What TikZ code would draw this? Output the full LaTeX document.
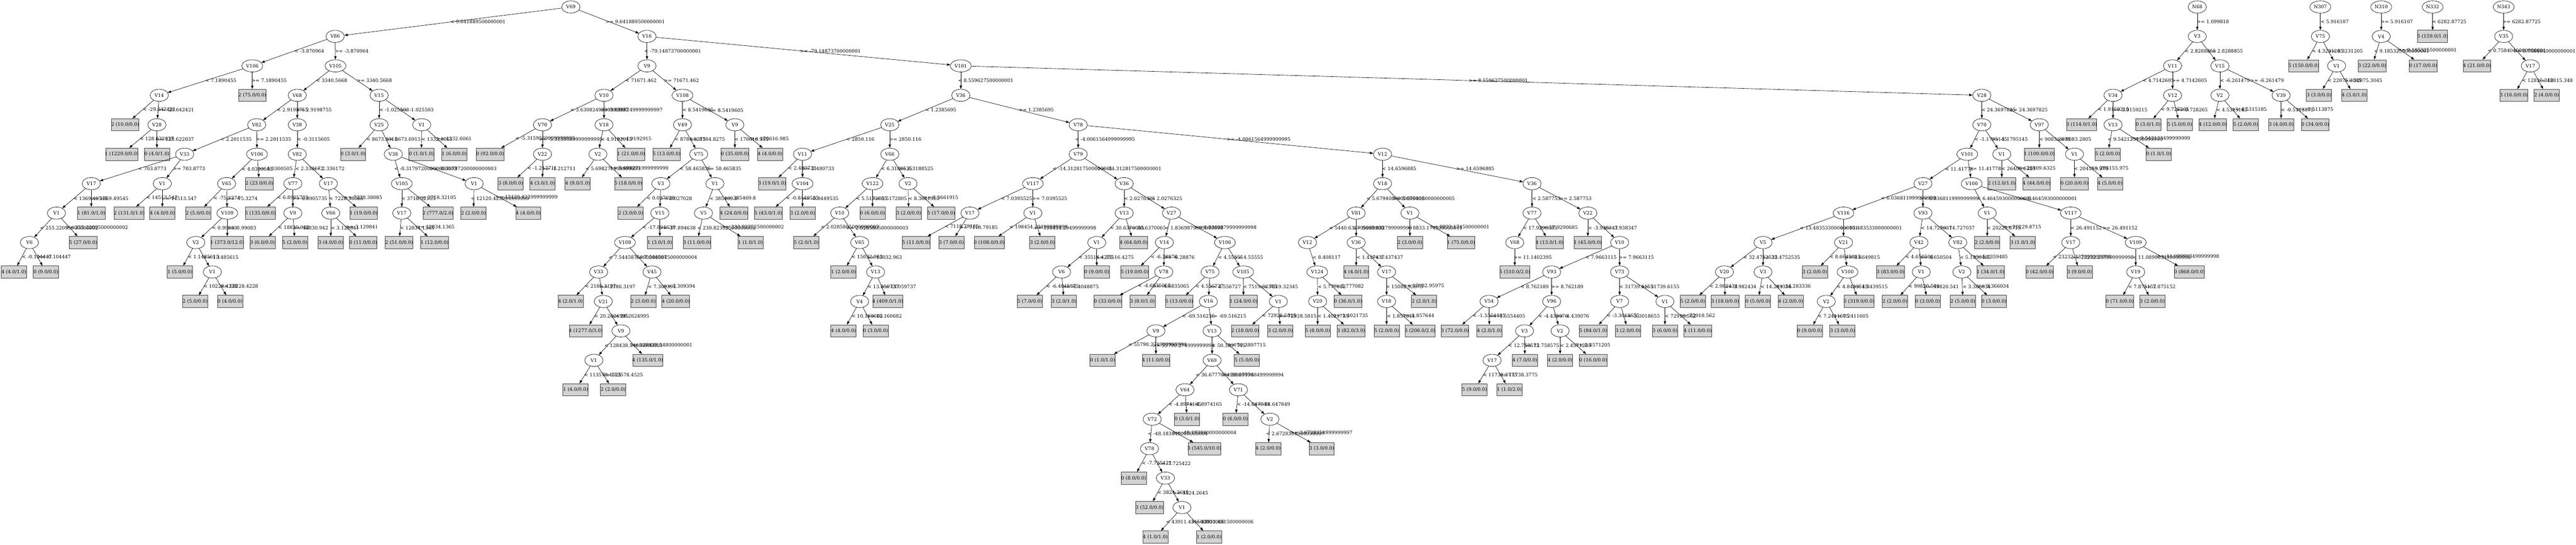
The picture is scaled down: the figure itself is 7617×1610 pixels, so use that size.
\documentclass[tikz,border=0pt]{standalone}
\usepackage{fontspec}
\setmainfont{DejaVu Serif}
\newfontfamily\tms{Liberation Serif}
\usetikzlibrary{arrows.meta,shapes.geometric}
\definecolor{gvgray}{HTML}{D3D3D3}
\newlength\gvw
\newcommand\gv[1]{\settowidth{\gvw}{\tms #1}\makebox[\gvw][c]{#1}}
\newcommand\gvfont{\fontsize{14pt}{16pt}\selectfont}
\tikzset{
  inn/.style={ellipse,draw=black,line width=1pt,minimum width=54pt,minimum height=36pt,inner xsep=6.25pt,inner ysep=2pt,font=\gvfont},
  leaf/.style={rectangle,draw=black!75,fill=gvgray,line width=1pt,minimum width=54pt,minimum height=36pt,inner xsep=7.92pt,inner ysep=0pt,font=\gvfont},
  gvedge/.style={draw=black,line width=1pt,-{Triangle[length=10pt,width=7pt]}},
  lbl/.style={pos=0.5,anchor=west,inner sep=0pt,xshift=10pt,font=\gvfont}
}
\newcommand\I[4]{\node[inn] (#1) at (#2pt,{-20.6pt-87pt*#3}) {\gv{#4}};}
\newcommand\F[4]{\node[leaf] (#1) at (#2pt,{-20.6pt-87pt*#3}) {\gv{#4}};}
\newcommand\E[3]{\draw[gvedge] (#1) -- (#2) node[lbl] (L#2) {\gv{#3}};}
\begin{document}
\begin{tikzpicture}
\useasboundingbox[fill=white] (0,0) rectangle (7617pt,-1610pt);
% level 0
\I{r}{1688}{0}{V69}
% level 1
\I{n86}{991}{1}{V86}
\I{n16}{1913}{1}{V16}
% level 2
\I{n106}{746}{2}{V106}
\I{n105}{992}{2}{V105}
\I{n9a}{1913}{2}{V9}
\I{n101}{2841}{2}{V101}
% level 3
\I{n14}{471}{3}{V14}
\F{f1}{746}{3}{2 (75.0/0.0)}
\I{n68}{879}{3}{V68}
\I{n15}{1121}{3}{V15}
\I{n10}{1786}{3}{V10}
\I{n108}{2018}{3}{V108}
\I{n36}{2841}{3}{V36}
\I{n28}{5860}{3}{V28}
% level 4
\F{f2}{370}{4}{2 (10.0/0.0)}
\I{n28b}{464}{4}{V28}
\I{n82}{759}{4}{V82}
\I{n38}{879}{4}{V38}
\I{n25}{1121}{4}{V25}
\I{n1a}{1247}{4}{V1}
\I{n70}{1604}{4}{V70}
\I{n18}{1786}{4}{V18}
\I{n49}{2018}{4}{V49}
\I{n9b}{2173}{4}{V9}
\I{n25b}{2631}{4}{V25}
\I{n78}{3188}{4}{V78}
\I{n70b}{5860}{4}{V70}
\I{n97}{6030}{4}{V97}
% level 5
\F{f3}{360}{5}{1 (1229.0/0.0)}
\F{f4}{464}{5}{0 (4.0/1.0)}
\I{n33}{546}{5}{V33}
\I{n106b}{760}{5}{V106}
\I{n82b}{879}{5}{V82}
\F{f5}{1044}{5}{0 (3.0/1.0)}
\I{n38b}{1163}{5}{V38}
\F{f6}{1246}{5}{0 (1.0/1.0)}
\F{f7}{1343}{5}{1 (6.0/0.0)}
\F{f8}{1449}{5}{0 (92.0/0.0)}
\I{n22}{1604}{5}{V22}
\I{n2a}{1768}{5}{V2}
\F{f9}{1866}{5}{1 (21.0/0.0)}
\F{f10}{1971}{5}{5 (13.0/0.0)}
\I{n75}{2066}{5}{V75}
\F{f11}{2173}{5}{0 (35.0/0.0)}
\F{f12}{2277}{5}{4 (4.0/0.0)}
\I{n11}{2373}{5}{V11}
\I{n66}{2631}{5}{V66}
\I{n79}{3188}{5}{V79}
\I{n12}{4088}{5}{V12}
\I{n101b}{5817}{5}{V101}
\I{n1b}{5919}{5}{V1}
\F{f13}{6030}{5}{1 (100.0/0.0)}
\I{n1c}{6134}{5}{V1}
% level 6
\I{n17a}{270}{6}{V17}
\I{n1d}{480}{6}{V1}
\I{n65}{670}{6}{V65}
\F{f14}{767}{6}{2 (23.0/0.0)}
\I{n77}{866}{6}{V77}
\I{n17b}{971}{6}{V17}
\I{n105b}{1188}{6}{V105}
\I{n1e}{1402}{6}{V1}
\F{f15}{1510}{6}{3 (8.0/0.0)}
\F{f16}{1604}{6}{4 (3.0/1.0)}
\F{f17}{1708}{6}{4 (9.0/1.0)}
\F{f18}{1858}{6}{5 (18.0/0.0)}
\I{n3a}{1954}{6}{V3}
\I{n1f}{2114}{6}{V1}
\F{f19}{2283}{6}{3 (19.0/1.0)}
\I{n104}{2373}{6}{V104}
\I{n122}{2580}{6}{V122}
\I{n2b}{2685}{6}{V2}
\I{n117}{3054}{6}{V117}
\I{n36b}{3324}{6}{V36}
\I{n18b}{4088}{6}{V18}
\I{n36c}{4530}{6}{V36}
\I{n27}{5686}{6}{V27}
\I{n100}{5830}{6}{V100}
\F{f20}{5919}{6}{2 (12.0/1.0)}
\F{f21}{6022}{6}{4 (44.0/0.0)}
\F{f22}{6134}{6}{0 (20.0/0.0)}
\F{f23}{6239}{6}{4 (5.0/0.0)}
% level 7
\I{n1g}{167}{7}{V1}
\F{f24}{270}{7}{1 (81.0/1.0)}
\F{f25}{382}{7}{2 (131.0/1.0)}
\F{f26}{480}{7}{4 (4.0/0.0)}
\F{f27}{586}{7}{2 (5.0/0.0)}
\I{n109}{672}{7}{V109}
\F{f28}{770}{7}{5 (135.0/0.0)}
\I{n9c}{866}{7}{V9}
\I{n66b}{978}{7}{V66}
\F{f29}{1075}{7}{1 (19.0/0.0)}
\I{n17c}{1188}{7}{V17}
\F{f30}{1295}{7}{2 (777.0/2.0)}
\F{f31}{1400}{7}{2 (2.0/0.0)}
\F{f32}{1562}{7}{4 (4.0/0.0)}
\F{f33}{1865}{7}{2 (3.0/0.0)}
\I{n15b}{1951}{7}{V15}
\I{n5a}{2080}{7}{V5}
\F{f34}{2170}{7}{4 (24.0/0.0)}
\F{f35}{2272}{7}{5 (43.0/1.0)}
\F{f36}{2373}{7}{3 (2.0/0.0)}
\I{n10b}{2483}{7}{V10}
\F{f37}{2580}{7}{0 (6.0/0.0)}
\F{f38}{2687}{7}{3 (2.0/0.0)}
\F{f39}{2783}{7}{5 (17.0/0.0)}
\I{n17d}{2868}{7}{V17}
\I{n1h}{3054}{7}{V1}
\I{n13a}{3324}{7}{V13}
\I{n27b}{3464}{7}{V27}
\I{n81}{4010}{7}{V81}
\I{n1i}{4169}{7}{V1}
\I{n77b}{4530}{7}{V77}
\I{n22b}{4695}{7}{V22}
\I{n116}{5451}{7}{V116}
\I{n93a}{5686}{7}{V93}
\I{n1j}{5876}{7}{V1}
\I{n117b}{6123}{7}{V117}
% level 8
\I{n6a}{87}{8}{V6}
\F{f40}{246}{8}{5 (27.0/0.0)}
\I{n2c}{579}{8}{V2}
\F{f41}{672}{8}{1 (373.0/12.0)}
\F{f42}{776}{8}{3 (6.0/0.0)}
\F{f43}{872}{8}{5 (2.0/0.0)}
\F{f44}{978}{8}{3 (4.0/0.0)}
\F{f45}{1074}{8}{0 (11.0/0.0)}
\F{f46}{1180}{8}{2 (51.0/0.0)}
\F{f47}{1285}{8}{1 (12.0/0.0)}
\I{n108b}{1848}{8}{V108}
\F{f48}{1951}{8}{1 (3.0/1.0)}
\F{f49}{2061}{8}{3 (11.0/0.0)}
\F{f50}{2219}{8}{1 (1.0/1.0)}
\F{f51}{2384}{8}{5 (2.0/1.0)}
\I{n65b}{2542}{8}{V65}
\F{f52}{2709}{8}{5 (11.0/0.0)}
\F{f53}{2813}{8}{3 (7.0/0.0)}
\F{f54}{2925}{8}{0 (108.0/0.0)}
\F{f55}{3082}{8}{3 (2.0/0.0)}
\I{n1k}{3243}{8}{V1}
\F{f56}{3352}{8}{4 (64.0/0.0)}
\I{n14b}{3443}{8}{V14}
\I{n106c}{3622}{8}{V106}
\I{n12b}{3866}{8}{V12}
\I{n36d}{4010}{8}{V36}
\F{f57}{4169}{8}{2 (3.0/0.0)}
\F{f58}{4320}{8}{1 (75.0/0.0)}
\I{n68b}{4479}{8}{V68}
\F{f59}{4582}{8}{4 (13.0/1.0)}
\F{f60}{4695}{8}{1 (45.0/0.0)}
\I{n10c}{4789}{8}{V10}
\I{n5b}{5213}{8}{V5}
\I{n21}{5451}{8}{V21}
\I{n42}{5674}{8}{V42}
\I{n82c}{5789}{8}{V82}
\F{f61}{5876}{8}{2 (2.0/0.0)}
\F{f62}{5981}{8}{3 (1.0/1.0)}
\I{n17e}{6123}{8}{V17}
\I{n109b}{6315}{8}{V109}
% level 9
\F{f63}{41}{9}{4 (4.0/1.0)}
\F{f64}{136}{9}{0 (9.0/0.0)}
\F{f65}{532}{9}{1 (5.0/0.0)}
\I{n1l}{628}{9}{V1}
\I{n33b}{1770}{9}{V33}
\I{n45}{1928}{9}{V45}
\F{f66}{2494}{9}{1 (2.0/0.0)}
\I{n13b}{2589}{9}{V13}
\I{n6b}{3139}{9}{V6}
\F{f67}{3243}{9}{0 (9.0/0.0)}
\F{f68}{3355}{9}{5 (19.0/0.0)}
\I{n78b}{3441}{9}{V78}
\I{n75b}{3578}{9}{V75}
\I{n105c}{3676}{9}{V105}
\I{n124}{3895}{9}{V124}
\F{f69}{4010}{9}{4 (4.0/1.0)}
\I{n17f}{4100}{9}{V17}
\F{f70}{4479}{9}{5 (510.0/2.0)}
\I{n93b}{4588}{9}{V93}
\I{n73}{4789}{9}{V73}
\I{n20a}{5099}{9}{V20}
\I{n3b}{5213}{9}{V3}
\F{f71}{5366}{9}{3 (2.0/0.0)}
\I{n100b}{5463}{9}{V100}
\F{f72}{5590}{9}{3 (83.0/0.0)}
\I{n1m}{5681}{9}{V1}
\I{n2d}{5801}{9}{V2}
\F{f73}{5886}{9}{1 (34.0/1.0)}
\F{f74}{6031}{9}{0 (42.0/0.0)}
\F{f75}{6149}{9}{3 (9.0/0.0)}
\I{n19}{6315}{9}{V19}
\F{f76}{6474}{9}{0 (868.0/0.0)}
% level 10
\F{f77}{577}{10}{2 (5.0/0.0)}
\F{f78}{680}{10}{0 (4.0/0.0)}
\F{f79}{1687}{10}{4 (2.0/1.0)}
\I{n21b}{1784}{10}{V21}
\F{f80}{1902}{10}{2 (3.0/0.0)}
\F{f81}{1998}{10}{4 (20.0/0.0)}
\I{n4a}{2542}{10}{V4}
\F{f82}{2625}{10}{4 (409.0/1.0)}
\F{f83}{3045}{10}{5 (7.0/0.0)}
\F{f84}{3146}{10}{3 (2.0/1.0)}
\F{f85}{3276}{10}{0 (33.0/0.0)}
\F{f86}{3378}{10}{3 (8.0/1.0)}
\F{f87}{3487}{10}{5 (13.0/0.0)}
\I{n16b}{3573}{10}{V16}
\F{f88}{3677}{10}{1 (24.0/0.0)}
\I{n1n}{3780}{10}{V1}
\I{n20b}{3896}{10}{V20}
\F{f89}{3986}{10}{0 (36.0/1.0)}
\I{n18c}{4100}{10}{V18}
\F{f90}{4211}{10}{2 (2.0/1.0)}
\I{n54}{4403}{10}{V54}
\I{n96}{4588}{10}{V96}
\I{n7}{4789}{10}{V7}
\I{n1o}{4923}{10}{V1}
\F{f91}{5005}{10}{5 (2.0/0.0)}
\F{f92}{5101}{10}{3 (18.0/0.0)}
\F{f93}{5198}{10}{0 (5.0/0.0)}
\F{f94}{5295}{10}{4 (2.0/0.0)}
\I{n2e}{5400}{10}{V2}
\F{f95}{5497}{10}{0 (319.0/0.0)}
\F{f96}{5603}{10}{2 (2.0/0.0)}
\F{f97}{5700}{10}{0 (3.0/0.0)}
\F{f98}{5804}{10}{2 (5.0/0.0)}
\F{f99}{5896}{10}{0 (3.0/0.0)}
\F{f100}{6268}{10}{0 (71.0/0.0)}
\F{f101}{6364}{10}{3 (2.0/0.0)}
% level 11
\F{f102}{1732}{11}{4 (1277.0/3.0)}
\I{n9d}{1836}{11}{V9}
\F{f103}{2494}{11}{4 (4.0/0.0)}
\F{f104}{2589}{11}{0 (3.0/0.0)}
\I{n9e}{3418}{11}{V9}
\I{n13c}{3584}{11}{V13}
\F{f105}{3682}{11}{2 (18.0/0.0)}
\F{f106}{3786}{11}{3 (2.0/0.0)}
\F{f107}{3896}{11}{5 (8.0/0.0)}
\F{f108}{3995}{11}{3 (82.0/3.0)}
\F{f109}{4100}{11}{5 (2.0/0.0)}
\F{f110}{4199}{11}{3 (206.0/2.0)}
\F{f111}{4302}{11}{3 (72.0/0.0)}
\F{f112}{4404}{11}{4 (2.0/1.0)}
\I{n3c}{4508}{11}{V3}
\I{n2f}{4613}{11}{V2}
\F{f113}{4711}{11}{5 (84.0/1.0)}
\F{f114}{4814}{11}{3 (2.0/0.0)}
\F{f115}{4923}{11}{3 (6.0/0.0)}
\F{f116}{5020}{11}{4 (11.0/0.0)}
\F{f117}{5351}{11}{0 (9.0/0.0)}
\F{f118}{5448}{11}{3 (3.0/0.0)}
% level 12
\I{n1p}{1756}{12}{V1}
\F{f119}{1915}{12}{4 (135.0/1.0)}
\F{f120}{3260}{12}{0 (1.0/1.0)}
\F{f121}{3418}{12}{4 (11.0/0.0)}
\I{n69b}{3584}{12}{V69}
\F{f122}{3687}{12}{5 (5.0/0.0)}
\I{n17g}{4412}{12}{V17}
\F{f123}{4509}{12}{4 (7.0/0.0)}
\F{f124}{4613}{12}{4 (2.0/0.0)}
\F{f125}{4711}{12}{0 (16.0/0.0)}
% level 13
\F{f126}{1702}{13}{1 (4.0/0.0)}
\F{f127}{1813}{13}{2 (2.0/0.0)}
\I{n64}{3504}{13}{V64}
\I{n71}{3662}{13}{V71}
\F{f128}{4360}{13}{5 (9.0/0.0)}
\F{f129}{4463}{13}{1 (1.0/2.0)}
% level 14
\I{n72}{3407}{14}{V72}
\F{f130}{3510}{14}{0 (3.0/1.0)}
\F{f131}{3653}{14}{0 (6.0/0.0)}
\I{n2g}{3755}{14}{V2}
% level 15
\I{n78c}{3399}{15}{V78}
\F{f132}{3561}{15}{3 (545.0/10.0)}
\F{f133}{3750}{15}{4 (2.0/0.0)}
\F{f134}{3908}{15}{3 (3.0/0.0)}
% level 16
\F{f135}{3352}{16}{0 (8.0/0.0)}
\I{n33c}{3446}{16}{V33}
% level 17
\F{f136}{3399}{17}{3 (52.0/0.0)}
\I{n1q}{3495}{17}{V1}
% level 18
\F{f137}{3416}{18}{4 (1.0/1.0)}
\F{f138}{3575}{18}{1 (2.0/0.0)}
% separate trees
\I{m0}{6497}{0}{N68}
\I{m1}{6497}{1}{V3}
\I{m2}{6424}{2}{V11}
\I{m3}{6564}{2}{V15}
\I{m4}{6248}{3}{V34}
\I{m5}{6424}{3}{V12}
\I{m6}{6564}{3}{V2}
\I{m7}{6745}{3}{V39}
\F{g1}{6155}{4}{3 (114.0/1.0)}
\I{m8}{6248}{4}{V13}
\F{g2}{6352}{4}{0 (3.0/1.0)}
\F{g3}{6445}{4}{5 (5.0/0.0)}
\F{g4}{6543}{4}{4 (12.0/0.0)}
\F{g5}{6640}{4}{5 (2.0/0.0)}
\F{g6}{6745}{4}{3 (4.0/0.0)}
\F{g7}{6846}{4}{0 (34.0/0.0)}
\F{g8}{6232}{5}{5 (2.0/0.0)}
\F{g9}{6383}{5}{0 (1.0/1.0)}
\I{k0}{6861}{0}{N307}
\I{k1}{6861}{1}{V75}
\F{h1}{6812}{2}{5 (150.0/0.0)}
\I{k2}{6909}{2}{V1}
\F{h2}{6857}{3}{3 (3.0/0.0)}
\F{h3}{6961}{3}{4 (3.0/1.0)}
\I{j0}{7041}{0}{N310}
\I{j1}{7041}{1}{V4}
\F{h4}{7014}{2}{3 (22.0/0.0)}
\F{h5}{7165}{2}{0 (17.0/0.0)}
\I{p0}{7193}{0}{N332}
\F{h6}{7193}{1}{5 (159.0/1.0)}
\I{q0}{7403}{0}{N343}
\I{q1}{7403}{1}{V35}
\F{h7}{7324}{2}{4 (21.0/0.0)}
\I{q2}{7482}{2}{V17}
\F{h8}{7433}{3}{3 (16.0/0.0)}
\F{h9}{7530}{3}{2 (4.0/0.0)}
% ---------------- edges ----------------
\E{r}{n86}{< 9.641889500000001}
\E{r}{n16}{>= 9.641889500000001}
\E{n86}{n106}{< -3.870964}
\E{n86}{n105}{>= -3.870964}
\E{n16}{n9a}{< -79.14873700000001}
\E{n16}{n101}{>= -79.14873700000001}
\E{n106}{n14}{< 7.1890455}
\E{n106}{f1}{>= 7.1890455}
\E{n105}{n68}{< 3340.5668}
\E{n105}{n15}{>= 3340.5668}
\E{n9a}{n10}{< 71671.462}
\E{n9a}{n108}{>= 71671.462}
\E{n101}{n36}{< 8.559627500000001}
\E{n101}{n28}{>= 8.559627500000001}
\E{n14}{f2}{< -29.642421}
\E{n14}{n28b}{>= -29.642421}
\E{n68}{n82}{< 2.9198755}
\E{n68}{n38}{>= 2.9198755}
\E{n15}{n25}{< -1.025503}
\E{n15}{n1a}{>= -1.025503}
\E{n10}{n70}{< 3.6308249999999997}
\E{n10}{n18}{>= 3.6308249999999997}
\E{n108}{n49}{< 8.5419605}
\E{n108}{n9b}{>= 8.5419605}
\E{n36}{n25b}{< 1.2385695}
\E{n36}{n78}{>= 1.2385695}
\E{n28}{n70b}{< 24.3697825}
\E{n28}{n97}{>= 24.3697825}
\E{n28b}{f3}{< 128.622037}
\E{n28b}{f4}{>= 128.622037}
\E{n82}{n33}{< 2.2011535}
\E{n82}{n106b}{>= 2.2011535}
\E{n38}{n82b}{< -0.3115605}
\E{n25}{f5}{< 8673.6915}
\E{n25}{n38b}{>= 8673.6915}
\E{n1a}{f6}{< 1332.6061}
\E{n1a}{f7}{>= 1332.6061}
\E{n70}{f8}{< -5.3159589999999995}
\E{n70}{n22}{>= -5.3159589999999995}
\E{n18}{n2a}{< 4.9192915}
\E{n18}{f9}{>= 4.9192915}
\E{n49}{f10}{< 8784.8275}
\E{n49}{n75}{>= 8784.8275}
\E{n9b}{f11}{< 170616.985}
\E{n9b}{f12}{>= 170616.985}
\E{n25b}{n11}{< 2850.116}
\E{n25b}{n66}{>= 2850.116}
\E{n78}{n79}{< -4.0061564999999995}
\E{n78}{n12}{>= -4.0061564999999995}
\E{n70b}{n101b}{< -1.1795145}
\E{n70b}{n1b}{>= -1.1795145}
\E{n97}{f13}{< 9083.2805}
\E{n97}{n1c}{>= 9083.2805}
\E{n33}{n17a}{< 703.8773}
\E{n33}{n1d}{>= 703.8773}
\E{n106b}{n65}{< 4.0300505}
\E{n106b}{f14}{>= 4.0300505}
\E{n82b}{n77}{< 2.336172}
\E{n82b}{n17b}{>= 2.336172}
\E{n38b}{n105b}{< -0.31797200000000003}
\E{n38b}{n1e}{>= -0.31797200000000003}
\E{n22}{f15}{< -1.212711}
\E{n22}{f16}{>= -1.212711}
\E{n2a}{f17}{< 5.698271999999999}
\E{n2a}{f18}{>= 5.698271999999999}
\E{n75}{n3a}{< 58.465835}
\E{n75}{n1f}{>= 58.465835}
\E{n11}{f19}{< 2.480733}
\E{n11}{n104}{>= 2.480733}
\E{n66}{n122}{< 6.3188525}
\E{n66}{n2b}{>= 6.3188525}
\E{n79}{n117}{< -14.312817500000001}
\E{n79}{n36b}{>= -14.312817500000001}
\E{n12}{n18b}{< 14.6596885}
\E{n12}{n36c}{>= 14.6596885}
\E{n101b}{n27}{< 11.41778}
\E{n101b}{n100}{>= 11.41778}
\E{n1b}{f20}{< 26409.6325}
\E{n1b}{f21}{>= 26409.6325}
\E{n1c}{f22}{< 204155.975}
\E{n1c}{f23}{>= 204155.975}
\E{n17a}{n1g}{< 1369.49545}
\E{n17a}{f24}{>= 1369.49545}
\E{n1d}{f25}{< 14513.547}
\E{n1d}{f26}{>= 14513.547}
\E{n65}{f27}{< -75.3274}
\E{n65}{n109}{>= -75.3274}
\E{n77}{f28}{< 6.8905735}
\E{n77}{n9c}{>= 6.8905735}
\E{n17b}{n66b}{< 7228.38085}
\E{n17b}{f29}{>= 7228.38085}
\E{n105b}{n17c}{< 3718.32105}
\E{n105b}{f30}{>= 3718.32105}
\E{n1e}{f31}{< 12120.423999999999}
\E{n1e}{f32}{>= 12120.423999999999}
\E{n3a}{f33}{< 0.027028}
\E{n3a}{n15b}{>= 0.027028}
\E{n1f}{n5a}{< 385469.8}
\E{n1f}{f34}{>= 385469.8}
\E{n104}{f35}{< -0.8449535}
\E{n104}{f36}{>= -0.8449535}
\E{n122}{n10b}{< 5.5172805}
\E{n122}{f37}{>= 5.5172805}
\E{n2b}{f38}{< 8.3661915}
\E{n2b}{f39}{>= 8.3661915}
\E{n117}{n17d}{< 7.0395525}
\E{n117}{n1h}{>= 7.0395525}
\E{n36b}{n13a}{< 2.0276325}
\E{n36b}{n27b}{>= 2.0276325}
\E{n18b}{n81}{< 5.6794080000000005}
\E{n18b}{n1i}{>= 5.6794080000000005}
\E{n36c}{n77b}{< 2.587753}
\E{n36c}{n22b}{>= 2.587753}
\E{n27}{n116}{< 6.036811999999999}
\E{n27}{n93a}{>= 6.036811999999999}
\E{n100}{n1j}{< 6.464593000000001}
\E{n100}{n117b}{>= 6.464593000000001}
\E{n1g}{n6a}{< 255.22095000000002}
\E{n1g}{f40}{>= 255.22095000000002}
\E{n109}{n2c}{< 0.99083}
\E{n109}{f41}{>= 0.99083}
\E{n9c}{f42}{< 18830.942}
\E{n9c}{f43}{>= 18830.942}
\E{n66b}{f44}{< 3.129841}
\E{n66b}{f45}{>= 3.129841}
\E{n17c}{f46}{< 12834.1365}
\E{n17c}{f47}{>= 12834.1365}
\E{n15b}{n108b}{< -17.894638}
\E{n15b}{f48}{>= -17.894638}
\E{n5a}{f49}{< 230.82352500000002}
\E{n5a}{f50}{>= 230.82352500000002}
\E{n10b}{f51}{< 2.0285805000000003}
\E{n10b}{n65b}{>= 2.0285805000000003}
\E{n17d}{f52}{< 7118.79185}
\E{n17d}{f53}{>= 7118.79185}
\E{n1h}{f54}{< 198454.29499999998}
\E{n1h}{f55}{>= 198454.29499999998}
\E{n13a}{n1k}{< 30.6370065}
\E{n13a}{f56}{>= 30.6370065}
\E{n27b}{n14b}{< 1.8369879999999998}
\E{n27b}{n106c}{>= 1.8369879999999998}
\E{n81}{n12b}{< 5440.632799999999}
\E{n81}{n36d}{>= 5440.632799999999}
\E{n1i}{f57}{< 8833.174500000001}
\E{n1i}{f58}{>= 8833.174500000001}
\E{n77b}{n68b}{< 17.9290685}
\E{n77b}{f59}{>= 17.9290685}
\E{n22b}{f60}{< -3.938347}
\E{n22b}{n10c}{>= -3.938347}
\E{n116}{n5b}{< 13.483533000000001}
\E{n116}{n21}{>= 13.483533000000001}
\E{n93a}{n42}{< 14.727037}
\E{n93a}{n82c}{>= 14.727037}
\E{n1j}{f61}{< 20229.8715}
\E{n1j}{f62}{>= 20229.8715}
\E{n117b}{n17e}{< 26.491152}
\E{n117b}{n109b}{>= 26.491152}
\E{n6a}{f63}{< -0.104447}
\E{n6a}{f64}{>= -0.104447}
\E{n2c}{f65}{< 1.1485615}
\E{n2c}{n1l}{>= 1.1485615}
\E{n108b}{n33b}{< 7.5445875000000004}
\E{n108b}{n45}{>= 7.5445875000000004}
\E{n65b}{f66}{< 15032.963}
\E{n65b}{n13b}{>= 15032.963}
\E{n1k}{n6b}{< 35516.4275}
\E{n1k}{f67}{>= 35516.4275}
\E{n14b}{f68}{< -6.28876}
\E{n14b}{n78b}{>= -6.28876}
\E{n106c}{n75b}{< 4.55555}
\E{n106c}{n105c}{>= 4.55555}
\E{n12b}{n124}{< 8.408117}
\E{n36d}{f69}{< 1.437437}
\E{n36d}{n17f}{>= 1.437437}
\E{n68b}{f70}{>= 11.1402395}
\E{n10c}{n93b}{< 7.9663115}
\E{n10c}{n73}{>= 7.9663115}
\E{n5b}{n20a}{< 32.4752535}
\E{n5b}{n3b}{>= 32.4752535}
\E{n21}{f71}{< 8.6649815}
\E{n21}{n100b}{>= 8.6649815}
\E{n42}{f72}{< 4.650504}
\E{n42}{n1m}{>= 4.650504}
\E{n82c}{n2d}{< 5.1359485}
\E{n82c}{f73}{>= 5.1359485}
\E{n17e}{f74}{< 23232.237999999998}
\E{n17e}{f75}{>= 23232.237999999998}
\E{n109b}{n19}{< 11.089903499999998}
\E{n109b}{f76}{>= 11.089903499999998}
\E{n1l}{f77}{< 10228.4228}
\E{n1l}{f78}{>= 10228.4228}
\E{n33b}{f79}{< 2186.3197}
\E{n33b}{n21b}{>= 2186.3197}
\E{n45}{f80}{< 7.309394}
\E{n45}{f81}{>= 7.309394}
\E{n13b}{n4a}{< 13.059737}
\E{n13b}{f82}{>= 13.059737}
\E{n6b}{f83}{< -6.4048875}
\E{n6b}{f84}{>= -6.4048875}
\E{n78b}{f85}{< -4.6835065}
\E{n78b}{f86}{>= -4.6835065}
\E{n75b}{f87}{< 4.556727}
\E{n75b}{n16b}{>= 4.556727}
\E{n105c}{f88}{< 7519.32345}
\E{n105c}{n1n}{>= 7519.32345}
\E{n124}{n20b}{< 5.777082}
\E{n124}{f89}{>= 5.777082}
\E{n17f}{n18c}{< 15082.95975}
\E{n17f}{f90}{>= 15082.95975}
\E{n93b}{n54}{< 8.762189}
\E{n93b}{n96}{>= 8.762189}
\E{n73}{n7}{< 31739.6155}
\E{n73}{n1o}{>= 31739.6155}
\E{n20a}{f91}{< 2.982434}
\E{n20a}{f92}{>= 2.982434}
\E{n3b}{f93}{< 14.283336}
\E{n3b}{f94}{>= 14.283336}
\E{n100b}{n2e}{< 4.8439515}
\E{n100b}{f95}{>= 4.8439515}
\E{n1m}{f96}{< 99820.541}
\E{n1m}{f97}{>= 99820.541}
\E{n2d}{f98}{< 3.366034}
\E{n2d}{f99}{>= 3.366034}
\E{n19}{f100}{< 7.875152}
\E{n19}{f101}{>= 7.875152}
\E{n21b}{f102}{< 20.2624995}
\E{n21b}{n9d}{>= 20.2624995}
\E{n4a}{f103}{< 10.160682}
\E{n4a}{f104}{>= 10.160682}
\E{n16b}{n9e}{< -69.516215}
\E{n16b}{n13c}{>= -69.516215}
\E{n1n}{f105}{< 72928.5815}
\E{n1n}{f106}{>= 72928.5815}
\E{n20b}{f107}{< 1.4021735}
\E{n20b}{f108}{>= 1.4021735}
\E{n18c}{f109}{< 1.857644}
\E{n18c}{f110}{>= 1.857644}
\E{n54}{f111}{< -1.5554405}
\E{n54}{f112}{>= -1.5554405}
\E{n96}{n3c}{< -4.439076}
\E{n96}{n2f}{>= -4.439076}
\E{n7}{f113}{< -3.3018655}
\E{n7}{f114}{>= -3.3018655}
\E{n1o}{f115}{< 72918.562}
\E{n1o}{f116}{>= 72918.562}
\E{n2e}{f117}{< 7.2411605}
\E{n2e}{f118}{>= 7.2411605}
\E{n9d}{n1p}{< 128438.54800000001}
\E{n9d}{f119}{>= 128438.54800000001}
\E{n9e}{f120}{< 55790.274999999994}
\E{n9e}{f121}{>= 55790.274999999994}
\E{n13c}{n69b}{< 50.3897715}
\E{n13c}{f122}{>= 50.3897715}
\E{n3c}{n17g}{< 12.758575}
\E{n3c}{f123}{>= 12.758575}
\E{n2f}{f124}{< 2.4571205}
\E{n2f}{f125}{>= 2.4571205}
\E{n1p}{f126}{< 113578.4525}
\E{n1p}{f127}{>= 113578.4525}
\E{n69b}{n64}{< 36.677708499999994}
\E{n69b}{n71}{>= 36.677708499999994}
\E{n17g}{f128}{< 11738.3775}
\E{n17g}{f129}{>= 11738.3775}
\E{n64}{n72}{< -4.8974165}
\E{n64}{f130}{>= -4.8974165}
\E{n71}{f131}{< -14.647849}
\E{n71}{n2g}{>= -14.647849}
\E{n72}{n78c}{< -48.183840000000004}
\E{n72}{f132}{>= -48.183840000000004}
\E{n2g}{f133}{< 2.6728354999999997}
\E{n2g}{f134}{>= 2.6728354999999997}
\E{n78c}{f135}{< -7.725422}
\E{n78c}{n33c}{>= -7.725422}
\E{n33c}{f136}{< 3824.2645}
\E{n33c}{n1q}{>= 3824.2645}
\E{n1q}{f137}{< 43911.431500000006}
\E{n1q}{f138}{>= 43911.431500000006}
% separate trees
\E{m0}{m1}{>= 1.099818}
\E{m1}{m2}{< 2.8288855}
\E{m1}{m3}{>= 2.8288855}
\E{m2}{m4}{< 4.7142605}
\E{m2}{m5}{>= 4.7142605}
\E{m3}{m6}{< -6.261479}
\E{m3}{m7}{>= -6.261479}
\E{m4}{g1}{< 1.9159215}
\E{m4}{m8}{>= 1.9159215}
\E{m5}{g2}{< 9.728265}
\E{m5}{g3}{>= 9.728265}
\E{m6}{g4}{< 4.5315185}
\E{m6}{g5}{>= 4.5315185}
\E{m7}{g6}{< -0.5113875}
\E{m7}{g7}{>= -0.5113875}
\E{m8}{g8}{< 9.542123499999999}
\E{m8}{g9}{>= 9.542123499999999}
\E{k0}{k1}{< 5.916107}
\E{k1}{h1}{< 4.3231205}
\E{k1}{k2}{>= 4.3231205}
\E{k2}{h2}{< 22075.3045}
\E{k2}{h3}{>= 22075.3045}
\E{j0}{j1}{>= 5.916107}
\E{j1}{h4}{< 9.185325500000001}
\E{j1}{h5}{>= 9.185325500000001}
\E{p0}{h6}{< 6282.87725}
\E{q0}{q1}{>= 6282.87725}
\E{q1}{h7}{< 0.7584040000000001}
\E{q1}{q2}{>= 0.7584040000000001}
\E{q2}{h8}{< 12815.348}
\E{q2}{h9}{>= 12815.348}
\end{tikzpicture}
\end{document}
